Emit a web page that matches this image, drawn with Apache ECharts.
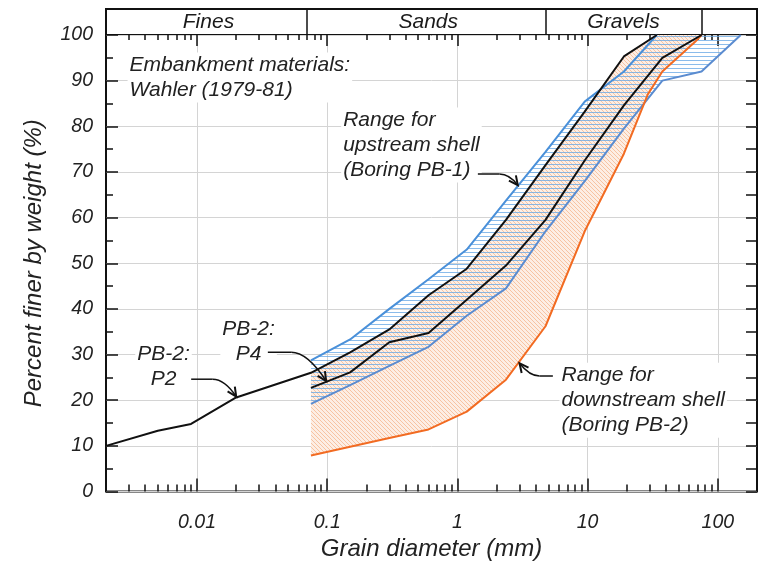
<!DOCTYPE html>
<html><head><meta charset="utf-8">
<script src="https://cdn.jsdelivr.net/npm/echarts@6/dist/echarts.min.js"></script>
<style>html,body{margin:0;padding:0;background:#fff}#c{width:764px;height:563px}</style>
</head><body><div id="c"></div>
<script>
const FONT = '"Liberation Sans", Arial, sans-serif';
const xMin = 0.002, xMax = 200;
const decadeTicks = [0.01, 0.1, 1, 10, 100];
const decadeLabels = ['0.01', '0.1', '1', '10', '100'];
const soilClasses = ['Fines', 'Sands', 'Gravels'];
const classBounds = [0.075, 4.75, 75];

// PB-2 : P2 (black, upper bound of downstream range)
const p2Size = [0.002, 0.005, 0.009, 0.02, 0.075, 0.15, 0.3, 0.6, 1.18, 2.36, 4.75, 9.5, 19, 34];
const p2Pct  = [10, 13.3, 14.8, 20.6, 26, 30.5, 35.5, 43, 48.8, 59.5, 71.5, 83.2, 95.3, 100];
// PB-2 : P4 (black)
const p4Size = [0.075, 0.15, 0.3, 0.6, 1.18, 2.36, 4.75, 9.5, 19, 37.5, 75];
const p4Pct  = [22.7, 26.1, 32.7, 34.7, 42, 49.5, 59.5, 72.5, 84.6, 95, 100];
// Upstream shell range (PB-1), fine and coarse bounds (blue)
const upFineSize = [0.075, 0.15, 0.3, 0.6, 1.18, 2.36, 4.75, 9.5, 19, 34];
const upFinePct  = [28.7, 33.3, 40, 46.5, 53, 63.7, 74.4, 85.4, 92, 100];
const upCoarseSize = [0.075, 0.15, 0.3, 0.6, 1.18, 2.36, 4.75, 9.5, 19, 37.5, 75, 150];
const upCoarsePct  = [19.2, 23.3, 27.5, 31.7, 38.5, 44.5, 57, 68, 79.5, 90, 92, 100];
// Downstream shell range (PB-2), coarse bound (orange)
const dnCoarseSize = [0.075, 0.15, 0.3, 0.6, 1.18, 2.36, 4.75, 9.5, 19, 29, 37.5, 67, 75];
const dnCoarsePct  = [7.9, 9.8, 11.7, 13.6, 17.5, 24.5, 36.2, 57, 74, 87, 92, 98.5, 100];

// annotations (anchored in data coordinates)
const noteTexts = ['Embankment materials:\nWahler (1979-81)', 'Range for\nupstream shell\n(Boring PB-1)', 'PB-2:\nP2', 'PB-2:\nP4', 'Range for\ndownstream shell\n(Boring PB-2)'];
const noteAt = [[0.00293, 90.7], [0.128, 75.9], [0.00553, 27.4], [0.0249, 32.8], [6.08, 20.0]];
const noteAlign = ['left', 'left', 'center', 'center', 'left'];
// arrows: start, end of straight part, bezier control, tip
const arrowPts = [
  [[1.436, 69.55], [2.10, 69.55], [2.51, 69.55], [2.91, 67.1]],
  [[0.00902, 24.6], [0.0132, 24.6], [0.0163, 24.6], [0.02, 20.8]],
  [[0.035, 30.5], [0.0529, 30.5], [0.0706, 30.5], [0.0982, 24.2]],
  [[5.41, 25.3], [4.27, 25.3], [3.58, 25.3], [3.0, 28.1]]
];

const zip = (a, b) => a.map((v, i) => [v, b[i]]);
const p2 = zip(p2Size, p2Pct), p4 = zip(p4Size, p4Pct);
const upFine = zip(upFineSize, upFinePct), upCoarse = zip(upCoarseSize, upCoarsePct);
const dnCoarse = zip(dnCoarseSize, dnCoarsePct);
const dnFine = p2.filter(p => p[0] >= 0.075);

const minorTicks = [];
[0.001, 0.01, 0.1, 1, 10, 100].forEach(b => { for (let m = 2; m <= 9; m++) { const v = +(b * m).toPrecision(3); if (v > xMin && v < xMax) minorTicks.push(v); } });
const classCenters = classBounds.map((b, i) => Math.sqrt((i === 0 ? xMin : classBounds[i - 1]) * b));

function makePattern(kind) {
  const c = document.createElement('canvas');
  if (kind === 'diag') {
    c.width = 4; c.height = 4;
    const g = c.getContext('2d');
    g.fillStyle = '#fdeee4'; g.fillRect(0, 0, 4, 4);
    g.strokeStyle = '#f7c3a2'; g.lineWidth = 1;
    [-4, 0, 4].forEach(o => { g.beginPath(); g.moveTo(o, 0); g.lineTo(o + 4, 4); g.stroke(); });
  } else {
    c.width = 4; c.height = 4;
    const g = c.getContext('2d');
    g.fillStyle = 'rgba(100,165,228,0.75)'; g.fillRect(0, 0, 4, 1);
  }
  return { image: c, repeat: 'repeat' };
}
const diagPat = makePattern('diag'), horzPat = makePattern('horz');

function bandRender(upper, lower, pat) {
  return function (params, api) {
    const pts = upper.map(p => api.coord(p)).concat(lower.slice().reverse().map(p => api.coord(p)));
    return { type: 'polygon', shape: { points: pts }, style: { fill: pat, stroke: null } };
  };
}

const txt = { fontFamily: FONT, fontStyle: 'italic', color: '#222' };

function noteRender(params, api) {
  const children = [];
  noteTexts.forEach((t, i) => {
    const c = api.coord(noteAt[i]);
    children.push({ type: 'text', x: c[0], y: c[1], style: { text: t, font: 'italic 21px ' + FONT, fill: '#222', align: noteAlign[i], verticalAlign: 'middle', lineHeight: 25, backgroundColor: '#fff', padding: [0, 2] } });
  });
  arrowPts.forEach(a => {
    const [s, m, cp, tp] = a.map(p => api.coord(p));
    children.push({ type: 'line', shape: { x1: s[0], y1: s[1], x2: m[0], y2: m[1] }, style: { stroke: '#111', lineWidth: 1.5 } });
    children.push({ type: 'bezierCurve', shape: { x1: m[0], y1: m[1], x2: tp[0], y2: tp[1], cpx1: cp[0], cpy1: cp[1] }, style: { stroke: '#111', lineWidth: 1.5, fill: null } });
    const ang = Math.atan2(tp[1] - cp[1], tp[0] - cp[0]);
    const L = 10, w = 0.45;
    const p1 = [tp[0] - L * Math.cos(ang - w), tp[1] - L * Math.sin(ang - w)];
    const p3 = [tp[0] - L * Math.cos(ang + w), tp[1] - L * Math.sin(ang + w)];
    children.push({ type: 'polyline', shape: { points: [p1, tp, p3] }, style: { stroke: '#111', lineWidth: 2, fill: null } });
  });
  return { type: 'group', children };
}

function classRender(params, api) {
  return { type: 'group', children: soilClasses.map((n, i) => {
    const c = api.coord([classCenters[i], 0.5]);
    return { type: 'text', x: c[0], y: c[1], style: { text: n, font: 'italic 21px ' + FONT, fill: '#1a1a1a', align: 'center', verticalAlign: 'middle' } };
  }) };
}

const logAxis = (extra) => Object.assign({ type: 'log', logBase: 10, min: xMin, max: xMax, gridIndex: 0,
  axisLine: { show: false }, axisLabel: { show: false }, splitLine: { show: false } }, extra);
const tickStyle = { color: '#111', width: 1.5 };

const chart = echarts.init(document.getElementById('c'), null, { renderer: 'canvas' });
chart.setOption({
  animation: false,
  backgroundColor: '#fff',
  grid: [
    { left: 106, top: 35, width: 651, height: 456.5, show: true, borderColor: '#111', borderWidth: 2, backgroundColor: 'transparent', outerBoundsMode: 'none', containLabel: false },
    { left: 106, top: 9, width: 651, height: 26, show: true, borderColor: '#111', borderWidth: 2, backgroundColor: 'transparent', outerBoundsMode: 'none', containLabel: false }
  ],
  xAxis: [
    logAxis({ position: 'bottom',
      axisTick: { show: true, inside: true, length: 13, customValues: decadeTicks, lineStyle: tickStyle },
      axisLabel: { show: true, customValues: decadeTicks, margin: 21, fontSize: 19.5, ...txt,
        formatter: v => { const i = decadeTicks.findIndex(t => Math.abs(Math.log10(t) - Math.log10(v)) < 1e-6); return i >= 0 ? decadeLabels[i] : ''; } },
      splitLine: { show: true, lineStyle: { color: '#d4d4d4', width: 1 } },
      name: 'Grain diameter (mm)', nameLocation: 'middle', nameGap: 42, nameTextStyle: { fontSize: 24, ...txt } }),
    logAxis({ position: 'bottom', axisTick: { show: true, inside: true, length: 7, customValues: minorTicks, lineStyle: tickStyle } }),
    logAxis({ position: 'top', axisTick: { show: true, inside: true, length: 11, customValues: decadeTicks, lineStyle: tickStyle } }),
    logAxis({ position: 'top', axisTick: { show: true, inside: true, length: 5, customValues: minorTicks, lineStyle: tickStyle } }),
    logAxis({ gridIndex: 1, position: 'bottom', axisTick: { show: false } })
  ],
  yAxis: [
    { type: 'value', gridIndex: 0, min: 0, max: 100, interval: 10, position: 'left',
      axisLine: { show: false },
      axisTick: { show: true, inside: true, length: 12, lineStyle: tickStyle },
      minorTick: { show: true, splitNumber: 2, length: 7, lineStyle: tickStyle },
      axisLabel: { margin: 13, fontSize: 19.5, ...txt },
      splitLine: { show: true, lineStyle: { color: '#d4d4d4', width: 1 } },
      name: 'Percent finer by weight (%)', nameLocation: 'middle', nameGap: 60, nameTextStyle: { fontSize: 24, ...txt } },
    { type: 'value', gridIndex: 0, min: 0, max: 100, interval: 10, position: 'right',
      axisLine: { show: false },
      axisTick: { show: true, inside: true, length: 11, lineStyle: tickStyle },
      minorTick: { show: true, splitNumber: 2, length: 11, lineStyle: tickStyle },
      axisLabel: { show: false }, splitLine: { show: false } },
    { type: 'value', gridIndex: 1, min: 0, max: 1, show: false }
  ],
  series: [
    { name: 'Downstream range', type: 'custom', xAxisIndex: 0, yAxisIndex: 0, z: 1, silent: true,
      renderItem: bandRender(dnFine, dnCoarse, diagPat), data: [[1, 50]] },
    { name: 'Upstream range', type: 'custom', xAxisIndex: 0, yAxisIndex: 0, z: 2, silent: true,
      renderItem: bandRender(upFine, upCoarse, horzPat), data: [[1, 50]] },
    { name: 'Upstream fine bound', type: 'line', data: upFine, showSymbol: false, z: 3, lineStyle: { color: '#4a90d9', width: 2 } },
    { name: 'Upstream coarse bound', type: 'line', data: upCoarse, showSymbol: false, z: 3, lineStyle: { color: '#5b8cd0', width: 2 } },
    { name: 'Downstream coarse bound', type: 'line', data: dnCoarse, showSymbol: false, z: 3, lineStyle: { color: '#f26b22', width: 2 } },
    { name: 'PB-2: P2', type: 'line', data: p2, showSymbol: false, z: 4, lineStyle: { color: '#111', width: 2 } },
    { name: 'PB-2: P4', type: 'line', data: p4, showSymbol: false, z: 4, lineStyle: { color: '#111', width: 2 } },
    { name: 'Notes', type: 'custom', z: 10, silent: true, renderItem: noteRender, data: [[1, 50]] },
    { name: 'Classes', type: 'custom', xAxisIndex: 4, yAxisIndex: 2, silent: true, z: 10,
      renderItem: classRender, data: [[1, 0.5]],
      markLine: { silent: true, symbol: 'none', label: { show: false }, lineStyle: { color: '#111', width: 1.5, type: 'solid' },
        data: classBounds.map(b => ({ xAxis: b })) } }
  ]
});
</script></body></html>
